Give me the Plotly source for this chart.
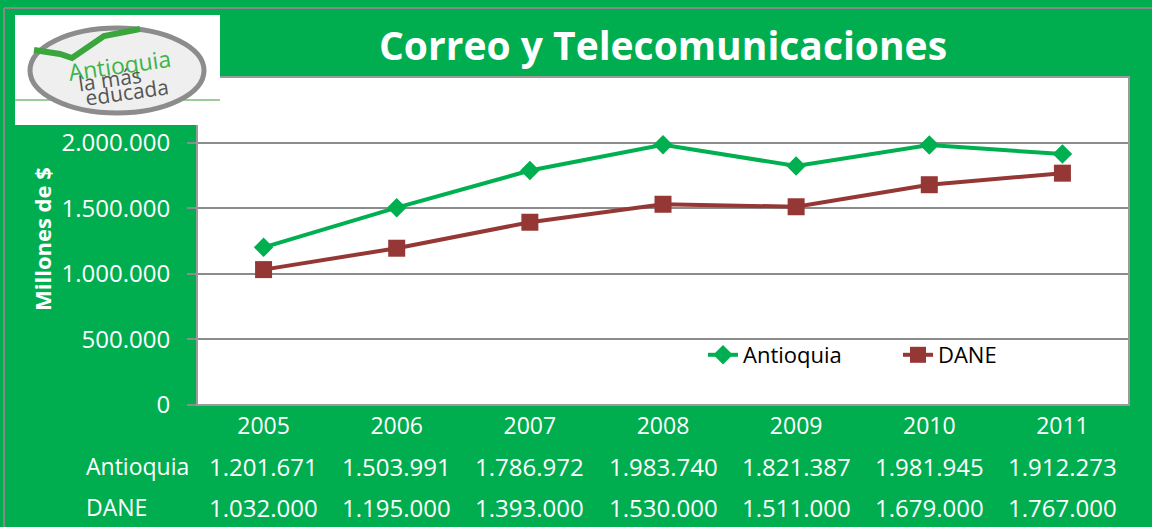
import plotly.graph_objects as go

years = ["2005", "2006", "2007", "2008", "2009", "2010", "2011"]
antioquia = [1201671, 1503991, 1786972, 1983740, 1821387, 1981945, 1912273]
dane = [1032000, 1195000, 1393000, 1530000, 1511000, 1679000, 1767000]
y_ticks = [0, 500000, 1000000, 1500000, 2000000]

GREEN_BG = "#00AE50"
LINE_GREEN = "#00B050"
DANE_RED = "#953735"
FONT = "Open Sans"

W, H = 1152, 527
L, R, T, B = 197, 1129, 77, 405


def px(x):
    return (x - L) / (R - L)


def py(y):
    return (B - y) / (B - T)


def fmt(v):
    return f"{v:,}".replace(",", ".")


def ann(text, x, y, size, color="white", xref="paper", xanchor="center", angle=0):
    return dict(text=text, x=x, y=y, xref=xref, yref="paper", showarrow=False,
                xanchor=xanchor, yanchor="middle", textangle=angle,
                font=dict(family=FONT, size=size, color=color))


fig = go.Figure()
fig.add_trace(go.Scatter(
    x=years, y=antioquia, name="Antioquia", mode="lines+markers",
    line=dict(color=LINE_GREEN, width=4),
    marker=dict(symbol="diamond", size=15, color=LINE_GREEN),
))
fig.add_trace(go.Scatter(
    x=years, y=dane, name="DANE", mode="lines+markers",
    line=dict(color=DANE_RED, width=4),
    marker=dict(symbol="square", size=17, color=DANE_RED),
))

annotations = []
annotations.append(ann("<b>Correo y Telecomunicaciones</b>", px(663), py(45), 39))
annotations.append(ann("<b>Millones de $</b>", px(42), py(239), 22, angle=-90))
for label, vals, ypix in [("Antioquia", antioquia, 466), ("DANE", dane, 507)]:
    annotations.append(ann(label, px(84), py(ypix), 23, xanchor="left"))
    for i, v in enumerate(vals):
        annotations.append(ann(fmt(v), i, py(ypix), 24, xref="x"))

# logo texts
annotations.append(ann("Antioquia", px(119), py(65), 23, color="#3BB54A", angle=-8))
annotations.append(ann("la más", px(110), py(79), 21, color="#555555", angle=-8))
annotations.append(ann("educada", px(127), py(92), 21, color="#555555", angle=-8))

shapes = []
shapes.append(dict(type="line", xref="paper", yref="paper", x0=px(4), x1=px(1152),
                   y0=py(8), y1=py(8), line=dict(color="#888888", width=2)))
shapes.append(dict(type="line", xref="paper", yref="paper", x0=px(4), x1=px(4),
                   y0=py(8), y1=py(527), line=dict(color="#888888", width=2)))
shapes.append(dict(type="rect", xref="paper", yref="paper", x0=0, x1=1, y0=0, y1=1,
                   line=dict(color="#9A9A9A", width=2), layer="above"))
# logo box
shapes.append(dict(type="rect", xref="paper", yref="paper", x0=px(15), x1=px(220),
                   y0=py(125), y1=py(15), fillcolor="white", line=dict(width=0),
                   layer="above"))
shapes.append(dict(type="line", xref="paper", yref="paper", x0=px(15), x1=px(220),
                   y0=py(100), y1=py(100), line=dict(color="#9CCB9C", width=2),
                   layer="above"))
shapes.append(dict(type="circle", xref="paper", yref="paper", x0=px(30), x1=px(204),
                   y0=py(113), y1=py(28), fillcolor="#EFEFEF",
                   line=dict(color="#8C8C8C", width=5), layer="above"))
shapes.append(dict(type="path", xref="paper", yref="paper",
                   path=(f"M {px(34)},{py(50)} L {px(60)},{py(54)} L {px(72)},{py(58)} "
                         f"L {px(104)},{py(36)} L {px(140)},{py(29)}"),
                   line=dict(color="#3BA63B", width=6), layer="above"))

fig.update_layout(
    width=W, height=H,
    margin=dict(l=L, r=W - R, t=T, b=H - B, autoexpand=False),
    paper_bgcolor=GREEN_BG, plot_bgcolor="white",
    showlegend=True,
    legend=dict(orientation="h", x=px(703), y=py(355), xanchor="left", yanchor="middle",
                entrywidth=150, entrywidthmode="pixels",
                bgcolor="rgba(0,0,0,0)", font=dict(family=FONT, size=22, color="black")),
    xaxis=dict(type="category", range=[-0.5, 6.5], showgrid=False, ticks="", showline=False,
               tickfont=dict(family=FONT, size=23, color="white"), ticklabelstandoff=5),
    yaxis=dict(range=[0, 2500000], tickvals=y_ticks, ticktext=[fmt(v) for v in y_ticks],
               showgrid=True, gridcolor="#8C8C8C", gridwidth=2, zeroline=False,
               ticks="outside", ticklen=9, tickcolor="#8C8C8C", tickwidth=2,
               tickfont=dict(family=FONT, size=24, color="white"), ticklabelstandoff=12),
    annotations=annotations, shapes=shapes,
)

fig.write_html("out.html", config={"displayModeBar": False},
               post_script="document.body.style.margin='0';")
